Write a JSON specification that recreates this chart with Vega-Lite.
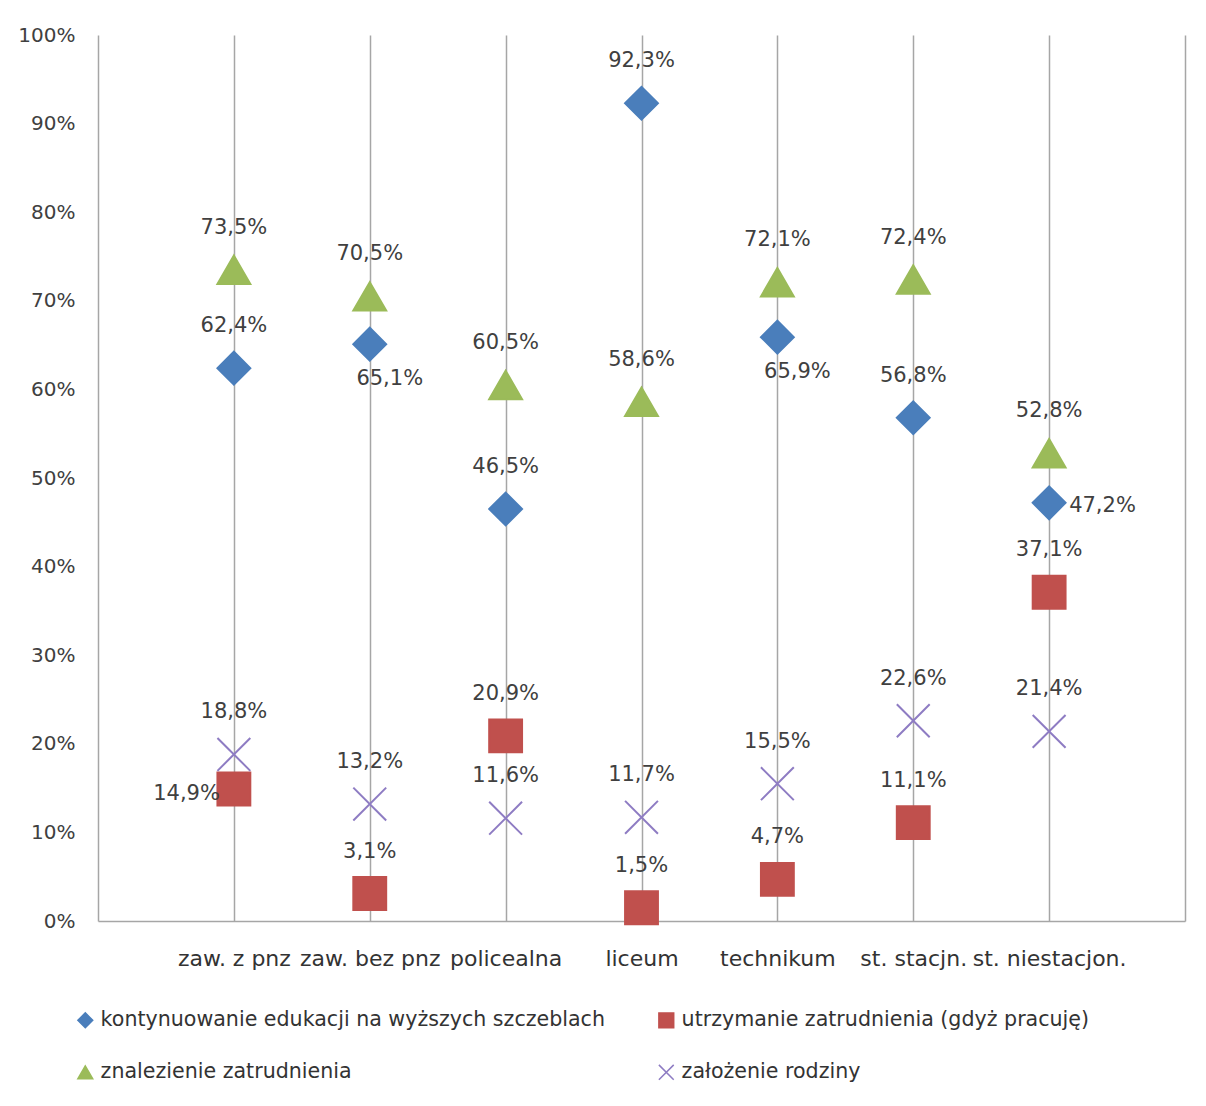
{
  "$schema": "https://vega.github.io/schema/vega-lite/v6.json",
  "width": 1087,
  "height": 886,
  "autosize": {"type": "none"},
  "padding": {"left": 98, "top": 35, "right": 21, "bottom": 185},
  "background": "white",
  "config": {
    "view": {"stroke": null},
    "font": "DejaVu Sans",
    "locale": {"number": {"decimal": ",", "thousands": "\u00a0", "grouping": [3], "currency": ["", " zł"]}},
    "axis": {"labelFont": "DejaVu Sans", "labelColor": "#404040", "domainColor": "#A6A6A6", "gridColor": "#A6A6A6", "ticks": false, "title": null}
  },
  "data": {"values": [
    {"kat": "zaw. z pnz", "seria": "kontynuowanie edukacji na wyższych szczeblach", "v": 0.624},
    {"kat": "zaw. bez pnz", "seria": "kontynuowanie edukacji na wyższych szczeblach", "v": 0.651},
    {"kat": "policealna", "seria": "kontynuowanie edukacji na wyższych szczeblach", "v": 0.465},
    {"kat": "liceum", "seria": "kontynuowanie edukacji na wyższych szczeblach", "v": 0.923},
    {"kat": "technikum", "seria": "kontynuowanie edukacji na wyższych szczeblach", "v": 0.659},
    {"kat": "st. stacjn.", "seria": "kontynuowanie edukacji na wyższych szczeblach", "v": 0.568},
    {"kat": "st. niestacjon.", "seria": "kontynuowanie edukacji na wyższych szczeblach", "v": 0.472},
    {"kat": "zaw. z pnz", "seria": "utrzymanie zatrudnienia (gdyż pracuję)", "v": 0.149},
    {"kat": "zaw. bez pnz", "seria": "utrzymanie zatrudnienia (gdyż pracuję)", "v": 0.031},
    {"kat": "policealna", "seria": "utrzymanie zatrudnienia (gdyż pracuję)", "v": 0.209},
    {"kat": "liceum", "seria": "utrzymanie zatrudnienia (gdyż pracuję)", "v": 0.015},
    {"kat": "technikum", "seria": "utrzymanie zatrudnienia (gdyż pracuję)", "v": 0.047},
    {"kat": "st. stacjn.", "seria": "utrzymanie zatrudnienia (gdyż pracuję)", "v": 0.111},
    {"kat": "st. niestacjon.", "seria": "utrzymanie zatrudnienia (gdyż pracuję)", "v": 0.371},
    {"kat": "zaw. z pnz", "seria": "znalezienie zatrudnienia", "v": 0.735},
    {"kat": "zaw. bez pnz", "seria": "znalezienie zatrudnienia", "v": 0.705},
    {"kat": "policealna", "seria": "znalezienie zatrudnienia", "v": 0.605},
    {"kat": "liceum", "seria": "znalezienie zatrudnienia", "v": 0.586},
    {"kat": "technikum", "seria": "znalezienie zatrudnienia", "v": 0.721},
    {"kat": "st. stacjn.", "seria": "znalezienie zatrudnienia", "v": 0.724},
    {"kat": "st. niestacjon.", "seria": "znalezienie zatrudnienia", "v": 0.528},
    {"kat": "zaw. z pnz", "seria": "założenie rodziny", "v": 0.188},
    {"kat": "zaw. bez pnz", "seria": "założenie rodziny", "v": 0.132},
    {"kat": "policealna", "seria": "założenie rodziny", "v": 0.116},
    {"kat": "liceum", "seria": "założenie rodziny", "v": 0.117},
    {"kat": "technikum", "seria": "założenie rodziny", "v": 0.155},
    {"kat": "st. stacjn.", "seria": "założenie rodziny", "v": 0.226},
    {"kat": "st. niestacjon.", "seria": "założenie rodziny", "v": 0.214}
  ]},
  "encoding": {
    "x": {"field": "kat", "type": "nominal", "sort": null,
      "scale": {"type": "point", "padding": 1},
      "axis": {"grid": true, "gridWidth": 1.5, "domainWidth": 1.5, "labelFontSize": 22, "labelAngle": 0, "labelPadding": 27, "labelColor": "#333333"}}
  },
  "layer": [
    {
      "mark": {"type": "point", "filled": true, "opacity": 1, "strokeWidth": 2, "size": 1080},
      "encoding": {
        "y": {"field": "v", "type": "quantitative", "scale": {"domain": [0, 1], "nice": false},
          "axis": {"orient": "left", "values": [0, 0.1, 0.2, 0.3, 0.4, 0.5, 0.6, 0.7, 0.8, 0.9, 1], "format": ".0%", "grid": false, "domainWidth": 1.5, "labelFontSize": 20, "labelPadding": 23}},
        "color": {"field": "seria", "type": "nominal", "sort": null,
          "scale": {"domain": ["kontynuowanie edukacji na wyższych szczeblach", "utrzymanie zatrudnienia (gdyż pracuję)", "znalezienie zatrudnienia", "założenie rodziny"], "range": ["#4A7EBB", "#C0504D", "#9BBB59", "#8E7CC3"]},
          "legend": {"orient": "none", "legendX": -23, "legendY": 975, "direction": "horizontal", "columns": 2, "columnPadding": 50, "rowPadding": 30, "title": null, "labelFontSize": 20.6, "labelFont": "DejaVu Sans", "labelColor": "#333333", "labelLimit": 0, "symbolSize": 220, "symbolStrokeWidth": 1.5, "labelOffset": 5, "padding": 0}},
        "stroke": {"field": "seria", "type": "nominal", "sort": null,
          "scale": {"domain": ["kontynuowanie edukacji na wyższych szczeblach", "utrzymanie zatrudnienia (gdyż pracuję)", "znalezienie zatrudnienia", "założenie rodziny"], "range": ["#4A7EBB", "#C0504D", "#9BBB59", "#8E7CC3"]}},
        "shape": {"field": "seria", "type": "nominal", "sort": null,
          "scale": {"domain": ["kontynuowanie edukacji na wyższych szczeblach", "utrzymanie zatrudnienia (gdyż pracuję)", "znalezienie zatrudnienia", "założenie rodziny"], "range": ["diamond", "square", "triangle-up", "M-1,-1L1,1M-1,1L1,-1"]}}
      }
    },
    {
      "transform": [{"filter": "!((datum.seria === 'kontynuowanie edukacji na wyższych szczeblach' && (datum.kat === 'zaw. bez pnz' || datum.kat === 'technikum' || datum.kat === 'st. niestacjon.')) || (datum.seria === 'utrzymanie zatrudnienia (gdyż pracuję)' && datum.kat === 'zaw. z pnz'))"}],
      "mark": {"type": "text", "dy": -42, "fontSize": 21, "font": "DejaVu Sans", "color": "#404040"},
      "encoding": {
        "y": {"field": "v", "type": "quantitative", "axis": null},
        "text": {"field": "v", "type": "quantitative", "format": ".1%"}
      }
    },
    {
      "transform": [{"filter": "datum.seria === 'kontynuowanie edukacji na wyższych szczeblach' && (datum.kat === 'zaw. bez pnz' || datum.kat === 'technikum')"}],
      "mark": {"type": "text", "dx": 20, "dy": 35, "fontSize": 21, "font": "DejaVu Sans", "color": "#404040"},
      "encoding": {
        "y": {"field": "v", "type": "quantitative", "axis": null},
        "text": {"field": "v", "type": "quantitative", "format": ".1%"}
      }
    },
    {
      "transform": [{"filter": "datum.seria === 'kontynuowanie edukacji na wyższych szczeblach' && datum.kat === 'st. niestacjon.'"}],
      "mark": {"type": "text", "align": "left", "dx": 20, "dy": 3, "fontSize": 21, "font": "DejaVu Sans", "color": "#404040"},
      "encoding": {
        "y": {"field": "v", "type": "quantitative", "axis": {"orient": "right", "labels": false, "grid": false, "domain": true, "domainWidth": 1.5}},
        "text": {"field": "v", "type": "quantitative", "format": ".1%"}
      }
    },
    {
      "transform": [{"filter": "datum.seria === 'utrzymanie zatrudnienia (gdyż pracuję)' && datum.kat === 'zaw. z pnz'"}],
      "mark": {"type": "text", "align": "right", "dx": -14, "dy": 5, "fontSize": 21, "font": "DejaVu Sans", "color": "#404040"},
      "encoding": {
        "y": {"field": "v", "type": "quantitative", "axis": null},
        "text": {"field": "v", "type": "quantitative", "format": ".1%"}
      }
    }
  ],
  "resolve": {"axis": {"y": "independent"}}
}
